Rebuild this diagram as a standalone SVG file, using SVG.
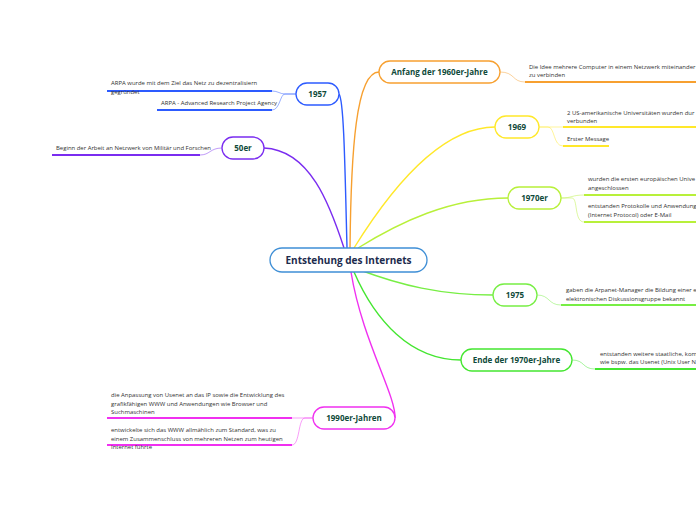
<svg xmlns="http://www.w3.org/2000/svg" width="696" height="520" viewBox="0 0 696 520">
<style>
.bg{fill:#ffffff}
.node rect{fill:#ffffff;stroke-width:1.3}
.lbl{font-family:"Open Sans","Liberation Sans",sans-serif;font-weight:bold;font-size:8px;fill:#0f4a3a;text-anchor:middle}
.main{font-family:"Open Sans","Liberation Sans",sans-serif;font-weight:bold;font-size:10px;fill:#1c2b4d;text-anchor:middle}
.txt{font-family:"Open Sans","Liberation Sans",sans-serif;font-size:5.95px;fill:#333333}
.con{fill:none;stroke-width:1.4}
.sub{fill:none;stroke-width:0.8;opacity:0.6}
.ul{stroke-width:1.8}
</style>
<rect class="bg" x="0" y="0" width="696" height="520"/>
<g id="connectors">
  <path class="con" stroke="#2d5bff" d="M347,248 C345,170 344,100 339,94"/>
  <path class="con" stroke="#7a2cf0" d="M344,248 C330,205 310,150 264,148"/>
  <path class="con" stroke="#f7a030" d="M350,248 C351,150 356,72 379,72"/>
  <path class="con" stroke="#ffe82a" d="M354,248 C390,190 440,127 495,127"/>
  <path class="con" stroke="#b8f03a" d="M358,248 C400,222 450,198 508,198"/>
  <path class="con" stroke="#77ee44" d="M360,270 C400,285 440,295 493,295"/>
  <path class="con" stroke="#44e630" d="M354,272 C375,320 410,360 461,360"/>
  <path class="con" stroke="#f030f0" d="M351,272 C362,340 396,395 395,418"/>
  <path class="sub" stroke="#2d5bff" d="M296,94 L285,94 C280,94 278,91 272,91"/>
  <path class="sub" stroke="#2d5bff" d="M296,94 L285,94 C280,94 280,110 272,110"/>
  <path class="sub" stroke="#7a2cf0" d="M222,148 C210,148 210,155 200,155"/>
  <path class="sub" stroke="#f7a030" d="M500,72 C515,72 512,82 525,82"/>
  <path class="sub" stroke="#ffe82a" d="M539,127 L563,127"/>
  <path class="sub" stroke="#ffe82a" d="M539,127 L548,127 C555,127 553,146 563,146"/>
  <path class="sub" stroke="#b8f03a" d="M561,198 C572,198 572,195 584,195"/>
  <path class="sub" stroke="#b8f03a" d="M561,198 L572,198 C578,198 574,222 584,222"/>
  <path class="sub" stroke="#77ee44" d="M537,295 C550,295 548,305 561,305"/>
  <path class="sub" stroke="#44e630" d="M572,360 C585,360 582,369 595,369"/>
  <path class="sub" stroke="#f030f0" d="M313,418 L292,418"/>
  <path class="sub" stroke="#f030f0" d="M313,418 L305,418 C298,418 300,445 292,445"/>
</g>
<g id="center" class="node">
  <rect x="270" y="248" width="157" height="24" rx="12" stroke="#3f8fd6"/>
  <text class="main" x="348.5" y="263.5">Entstehung des Internets</text>
</g>
<g id="n1957" class="node">
  <rect x="296" y="83" width="43" height="22" rx="11" stroke="#2d5bff"/>
  <text class="lbl" x="317.5" y="97">1957</text>
</g>
<g id="n1957a">
  <line class="ul" x1="107" y1="91" x2="272" y2="91" stroke="#2d5bff"/>
  <text class="txt" x="111" y="85">ARPA wurde mit dem Ziel das Netz zu dezentralisiern</text>
  <text class="txt" x="111" y="94">gegründet</text>
</g>
<g id="n1957b">
  <line class="ul" x1="157" y1="110" x2="272" y2="110" stroke="#2d5bff"/>
  <text class="txt" x="161" y="105">ARPA - Advanced Research Project Agency</text>
</g>
<g id="n50er" class="node">
  <rect x="222" y="137" width="42" height="22" rx="11" stroke="#7a2cf0"/>
  <text class="lbl" x="243" y="151">50er</text>
</g>
<g id="n50er_a">
  <line class="ul" x1="52" y1="155" x2="200" y2="155" stroke="#7a2cf0"/>
  <text class="txt" x="56" y="150">Beginn der Arbeit an Netzwerk von Militär und Forschen</text>
</g>
<g id="n1960" class="node">
  <rect x="379" y="61" width="121" height="22" rx="11" stroke="#f7a030"/>
  <text class="lbl" x="439.5" y="75">Anfang der 1960er-Jahre</text>
</g>
<g id="n1960a">
  <line class="ul" x1="525" y1="82" x2="696" y2="82" stroke="#f7a030"/>
  <text class="txt" x="529" y="69">Die Idee mehrere Computer in einem Netzwerk miteinander</text>
  <text class="txt" x="529" y="77">zu verbinden</text>
</g>
<g id="n1969" class="node">
  <rect x="495" y="116" width="44" height="22" rx="11" stroke="#ffe82a"/>
  <text class="lbl" x="517" y="130">1969</text>
</g>
<g id="n1969a">
  <line class="ul" x1="563" y1="127" x2="696" y2="127" stroke="#ffe82a"/>
  <text class="txt" x="567" y="115">2 US-amerikanische Universitäten wurden dur</text>
  <text class="txt" x="567" y="123">verbunden</text>
</g>
<g id="n1969b">
  <line class="ul" x1="563" y1="146" x2="609" y2="146" stroke="#ffe82a"/>
  <text class="txt" x="567" y="141">Erster Message</text>
</g>
<g id="n1970er" class="node">
  <rect x="508" y="187" width="53" height="22" rx="11" stroke="#b8f03a"/>
  <text class="lbl" x="534.5" y="201">1970er</text>
</g>
<g id="n1970er_a">
  <line class="ul" x1="584" y1="195" x2="696" y2="195" stroke="#b8f03a"/>
  <text class="txt" x="588" y="181">wurden die ersten europäischen Unive</text>
  <text class="txt" x="588" y="190">angeschlossen</text>
</g>
<g id="n1970er_b">
  <line class="ul" x1="584" y1="222" x2="696" y2="222" stroke="#b8f03a"/>
  <text class="txt" x="588" y="208">entstanden Protokolle und Anwendung</text>
  <text class="txt" x="588" y="217">(Internet Protocol) oder E-Mail</text>
</g>
<g id="n1975" class="node">
  <rect x="493" y="284" width="44" height="22" rx="11" stroke="#77ee44"/>
  <text class="lbl" x="515" y="298">1975</text>
</g>
<g id="n1975a">
  <line class="ul" x1="561" y1="305" x2="696" y2="305" stroke="#77ee44"/>
  <text class="txt" x="566" y="292">gaben die Arpanet-Manager die Bildung einer e</text>
  <text class="txt" x="566" y="301">elektronischen Diskussionsgruppe bekannt</text>
</g>
<g id="nEnde" class="node">
  <rect x="461" y="349" width="111" height="22" rx="11" stroke="#44e630"/>
  <text class="lbl" x="516.5" y="363">Ende der 1970er-Jahre</text>
</g>
<g id="nEnde_a">
  <line class="ul" x1="595" y1="369" x2="696" y2="369" stroke="#44e630"/>
  <text class="txt" x="600" y="356">entstanden weitere staatliche, kom</text>
  <text class="txt" x="600" y="364">wie bspw. das Usenet (Unix User N</text>
</g>
<g id="n1990" class="node">
  <rect x="313" y="407" width="82" height="22" rx="11" stroke="#f030f0"/>
  <text class="lbl" x="354" y="421">1990er-Jahren</text>
</g>
<g id="n1990a">
  <line class="ul" x1="107" y1="418" x2="292" y2="418" stroke="#f030f0"/>
  <text class="txt" x="111" y="397">die Anpassung von Usenet an das IP sowie die Entwicklung des</text>
  <text class="txt" x="111" y="406">grafikfähigen WWW und Anwendungen wie Browser und</text>
  <text class="txt" x="111" y="414">Suchmaschinen</text>
</g>
<g id="n1990b">
  <line class="ul" x1="107" y1="445" x2="292" y2="445" stroke="#f030f0"/>
  <text class="txt" x="111" y="432">entwickelte sich das WWW allmählich zum Standard, was zu</text>
  <text class="txt" x="111" y="441">einem Zusammenschluss von mehreren Netzen zum heutigen</text>
  <text class="txt" x="111" y="449">Internet führte</text>
</g>
</svg>
